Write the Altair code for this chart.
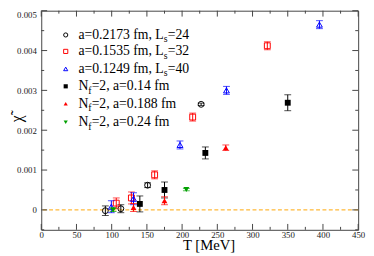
import altair as alt
import pandas as pd

# ---------------- data ----------------
s1_T = [91, 113, 151, 227]
s1_v = [-0.00002, 0.00003, 0.00062, 0.00265]
s1_e = [0.00012, 0.0001, 0.00006, 0.00003]

s2_T = [106.5, 128, 161, 215, 321]
s2_v = [0.00017, 0.0003, 0.00088, 0.00233, 0.00412]
s2_e = [0.00013, 0.00015, 0.0001, 0.0001, 0.0001]

s3_T = [99.5, 131, 197, 263, 395]
s3_v = [0.00008, 0.00028, 0.00163, 0.003, 0.00465]
s3_e = [0.00015, 0.00015, 0.0001, 0.0001, 0.0001]

s4_T = [140, 175, 233, 350]
s4_v = [0.00015, 0.0005, 0.00143, 0.00269]
s4_e = [0.0002, 0.0002, 0.00015, 0.0002]

s5_T = [131, 175, 262]
s5_v = [0.00006, 0.00023, 0.00156]
s5_e = [0.0001, 0.0001, 0.00007]

s6_T = [102, 206]
s6_v = [0.0, 0.00051]
s6_e = [0.00004, 0.00003]

x_major = [0, 50, 100, 150, 200, 250, 300, 350, 400, 450]
x_minor = [25, 75, 125, 175, 225, 275, 325, 375, 425]
y_major = [0, 0.001, 0.002, 0.003, 0.004, 0.005]
y_minor = [-0.0005, 0.0005, 0.0015, 0.0025, 0.0035, 0.0045]

# legend label pieces: (main, subscript, rest)
leg_labels = [
    ("a=0.2173 fm, L", "s", "=24"),
    ("a=0.1535 fm, L", "s", "=32"),
    ("a=0.1249 fm, L", "s", "=40"),
    ("N", "f", "=2, a=0.14 fm"),
    ("N", "f", "=2, a=0.188 fm"),
    ("N", "f", "=2, a=0.24 fm"),
]

# ---------------- style ----------------
W, H = 324, 224
SERIF = "Liberation Serif"
GREEN = "#00a000"
series = [
    (s1_T, s1_v, s1_e, "circle", False, "black"),
    (s2_T, s2_v, s2_e, "square", False, "red"),
    (s3_T, s3_v, s3_e, "triangle-up", False, "blue"),
    (s4_T, s4_v, s4_e, "square", True, "black"),
    (s5_T, s5_v, s5_e, "triangle-up", True, "red"),
    (s6_T, s6_v, s6_e, "triangle-down", True, GREEN),
]

xscale = alt.Scale(domain=[0, 450], nice=False, zero=False)
yscale = alt.Scale(domain=[-0.0005, 0.005], nice=False, zero=False)

xaxis = alt.Axis(values=x_major, ticks=False, domain=False, grid=False,
                 labelFont=SERIF, labelFontSize=9, labelColor="#222",
                 labelPadding=1, labelFlush=False, labelOverlap=False,
                 titleFont=SERIF, titleFontSize=15, titleFontWeight="normal",
                 titleColor="black", titleX=171, titleY=20,
                 titleBaseline="alphabetic", titleAlign="center")
yaxis = alt.Axis(values=y_major, ticks=False, domain=False, grid=False,
                 labelExpr="datum.value == 0 ? '0' : format(datum.value, '.3f')",
                 labelFont=SERIF, labelFontSize=9, labelColor="#222",
                 labelPadding=5, labelFlush=True, labelOverlap=False,
                 titleFont=SERIF, titleFontSize=16, titleFontWeight="normal",
                 titleColor="black", titleX=-25, titleY=110,
                 titleAlign="center", titleBaseline="middle")


def X(field="T"):
    return alt.X(f"{field}:Q", scale=xscale, axis=xaxis, title="T [MeV]")


def Y(field="v"):
    return alt.Y(f"{field}:Q", scale=yscale, axis=yaxis, title="χ̃")


layers = []

# zero line
zero_df = pd.DataFrame({"v": [0.0]})
layers.append(alt.Chart(zero_df).mark_rule(color="#ffa500", strokeWidth=1,
                                           strokeDash=[4, 2.5]).encode(y=Y()))

# inward ticks on all four sides
xt_maj = pd.DataFrame({"T": x_major})
xt_min = pd.DataFrame({"T": x_minor})
yt_maj = pd.DataFrame({"v": y_major})
yt_min = pd.DataFrame({"v": y_minor})
TICK = "#444"
for df, ln in [(xt_maj, 6), (xt_min, 3)]:
    layers.append(alt.Chart(df).mark_rule(color=TICK).encode(
        x=X(), y=alt.value(H), y2=alt.value(H - ln)))
    layers.append(alt.Chart(df).mark_rule(color=TICK).encode(
        x=X(), y=alt.value(0), y2=alt.value(ln)))
for df, ln in [(yt_maj, 6), (yt_min, 3)]:
    layers.append(alt.Chart(df).mark_rule(color=TICK).encode(
        y=Y(), x=alt.value(0), x2=alt.value(ln)))
    layers.append(alt.Chart(df).mark_rule(color=TICK).encode(
        y=Y(), x=alt.value(W), x2=alt.value(W - ln)))

# data series with error bars
for T, v, e, shape, filled, color in series:
    df = pd.DataFrame({"T": T, "v": v,
                       "lo": [a - b for a, b in zip(v, e)],
                       "hi": [a + b for a, b in zip(v, e)]})
    base = alt.Chart(df)
    layers.append(base.mark_rule(color=color, strokeWidth=1).encode(
        x=X(), y=Y("lo"), y2="hi:Q"))
    layers.append(base.mark_tick(color=color, orient="horizontal", size=7,
                                 thickness=1).encode(x=X(), y=Y("lo")))
    layers.append(base.mark_tick(color=color, orient="horizontal", size=7,
                                 thickness=1).encode(x=X(), y=Y("hi")))
    layers.append(base.mark_point(shape=shape, filled=filled, color=color,
                                  size=36, strokeWidth=1, opacity=1).encode(
        x=X(), y=Y()))

# manual legend
dummy = pd.DataFrame({"a": [0]})
row_y = [24.8, 41.6, 59.5, 77.3, 95.1, 114]
for (main, sub, rest), (_, _, _, shape, filled, color), ry in zip(leg_labels, series, row_y):
    layers.append(alt.Chart(dummy).mark_point(shape=shape, filled=filled, color=color,
                                              size=18, strokeWidth=1, opacity=1).encode(
        x=alt.value(25), y=alt.value(ry)))
    if sub == "s":
        x_sub, x_rest = 38 + 87.3, 38 + 87.3 + 4.0
    else:
        x_sub, x_rest = 38 + 10.1, 38 + 10.1 + 3.4
    layers.append(alt.Chart(dummy).mark_text(font=SERIF, fontSize=14, align="left",
                                             baseline="middle", color="black").encode(
        x=alt.value(38), y=alt.value(ry), text=alt.value(main)))
    layers.append(alt.Chart(dummy).mark_text(font=SERIF, fontSize=10, align="left",
                                             baseline="middle", color="black").encode(
        x=alt.value(x_sub), y=alt.value(ry + 4.5), text=alt.value(sub)))
    layers.append(alt.Chart(dummy).mark_text(font=SERIF, fontSize=14, align="left",
                                             baseline="middle", color="black").encode(
        x=alt.value(x_rest), y=alt.value(ry), text=alt.value(rest)))

chart = alt.layer(*layers).properties(
    width=W, height=H,
    autosize=alt.AutoSizeParams(type="none"),
    padding={"left": 34, "top": 0, "right": 8, "bottom": 24},
).configure_view(stroke="#444", strokeWidth=1)

chart.save("out.html", embed_options={"renderer": "svg", "actions": False})
